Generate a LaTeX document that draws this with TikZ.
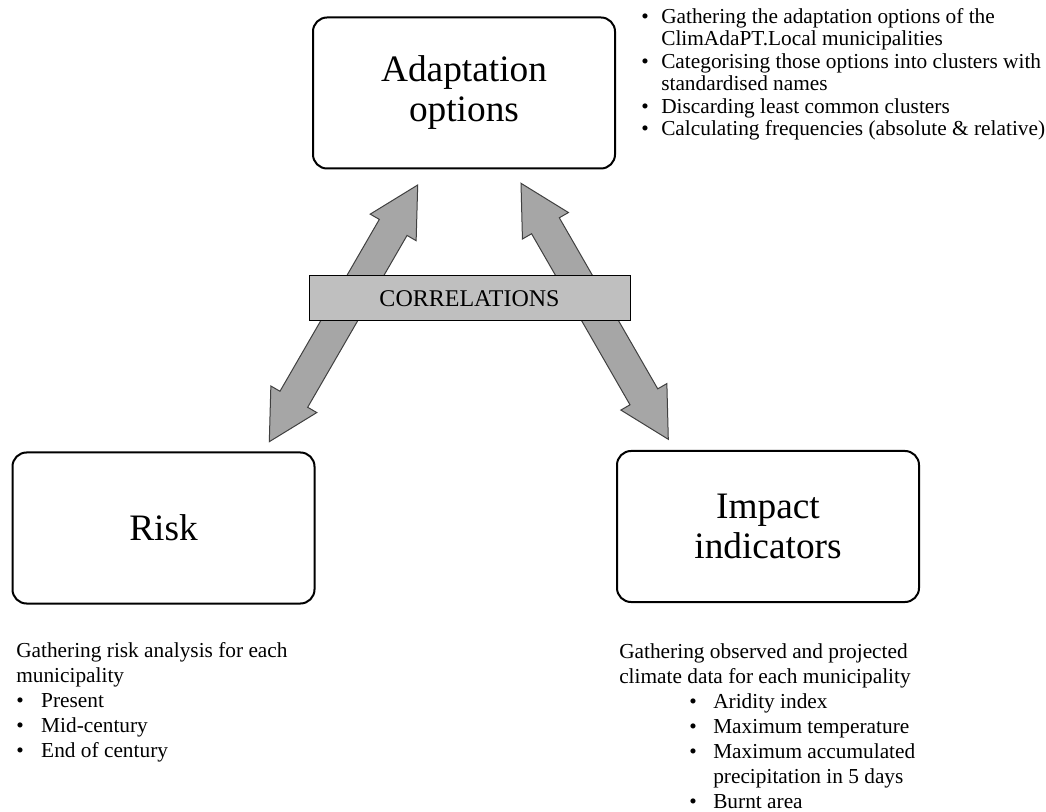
\documentclass[tikz,border=0pt]{standalone}
\usepackage{fontspec}
\setmainfont{Liberation Serif}
\usetikzlibrary{calc}

% bullet set in a box of fixed width, so the item text starts at a fixed indent
\newcommand{\bulletw}[1]{\makebox[#1][l]{\textbullet}}

% broad double-headed arrow between two named points
% (head length 49 px, head half-width 26.5 px, shaft half-width 16 px; 1 px = 0.75 pt)
\newcommand{\fatarrow}[2]{%
  \coordinate (#1-hb) at ($(#1)!36.75pt!(#2)$);
  \coordinate (#2-hb) at ($(#2)!36.75pt!(#1)$);
  \filldraw[fat] (#1)
    -- ($(#1-hb)!19.9pt!90:(#2)$) -- ($(#1-hb)!12pt!90:(#2)$)
    -- ($(#2-hb)!12pt!-90:(#1)$) -- ($(#2-hb)!19.9pt!-90:(#1)$)
    -- (#2)
    -- ($(#2-hb)!19.9pt!90:(#1)$) -- ($(#2-hb)!12pt!90:(#1)$)
    -- ($(#1-hb)!12pt!-90:(#2)$) -- ($(#1-hb)!19.9pt!-90:(#2)$)
    -- cycle;}

\tikzset{
  panel/.style={draw, line width=1.5pt, rounded corners=10.5pt,
    minimum width=226.5pt, minimum height=113.25pt, align=center,
    inner sep=0pt, font=\fontsize{28pt}{30pt}\selectfont},
  corrbox/.style={draw, line width=0.75pt, fill=black!25,
    minimum width=240.75pt, minimum height=33.75pt, inner sep=0pt,
    font=\fontsize{18pt}{21pt}\selectfont},
  fat/.style={fill=black!35, draw=black!75, line width=0.75pt, line join=miter},
  notes/.style={anchor=north west, align=left, inner sep=0pt,
    font=\fontsize{16pt}{18.75pt}\selectfont},
}

\begin{document}
\begin{tikzpicture}[x=0.75pt, y=-0.75pt]
  \fill[white] (0,0) rectangle (1046,812);
  \useasboundingbox (0,0) rectangle (1046,812);

  % the three boxes
  \node[panel] (adapt)  at (464,93)    {Adaptation\\options};
  \node[panel] (risk)   at (163.5,528) {Risk};
  \node[panel] (impact) at (768,526.5) {Impact\\indicators};

  % arrow end points
  \coordinate (la1) at (417.7,185);
  \coordinate (la2) at (269.3,441.7);
  \coordinate (ra1) at (521,183.3);
  \coordinate (ra2) at (668.3,439.3);

  \fatarrow{la1}{la2}
  \fatarrow{ra1}{ra2}

  \node[corrbox] (corr) at (469.5,298.5) {CORRELATIONS};

  % notes beside each box
  \node[notes, font=\fontsize{16pt}{16.9pt}\selectfont] (adaptnotes) at (641,7)
    {\rule{0pt}{12pt}\bulletw{15pt}Gathering the adaptation options of the\\
     \hspace*{15pt}ClimAdaPT.Local municipalities\\
     \bulletw{15pt}Categorising those options into clusters with\\
     \hspace*{15pt}standardised names\\
     \bulletw{15pt}Discarding least common clusters\\
     \bulletw{15pt}Calculating frequencies (absolute \& relative)};

  \node[notes] (risknotes) at (16,641)
    {\rule{0pt}{12pt}Gathering risk analysis for each\\
     municipality\\
     \bulletw{18.75pt}Present\\
     \bulletw{18.75pt}Mid-century\\
     \bulletw{18.75pt}End of century};

  \node[notes] (impactnotes) at (619,642)
    {\rule{0pt}{12pt}Gathering observed and projected\\
     climate data for each municipality\\
     \hspace*{52.5pt}\bulletw{18pt}Aridity index\\
     \hspace*{52.5pt}\bulletw{18pt}Maximum temperature\\
     \hspace*{52.5pt}\bulletw{18pt}Maximum accumulated\\
     \hspace*{70.5pt}precipitation in 5 days\\
     \hspace*{52.5pt}\bulletw{18pt}Burnt area};
\end{tikzpicture}
\end{document}
